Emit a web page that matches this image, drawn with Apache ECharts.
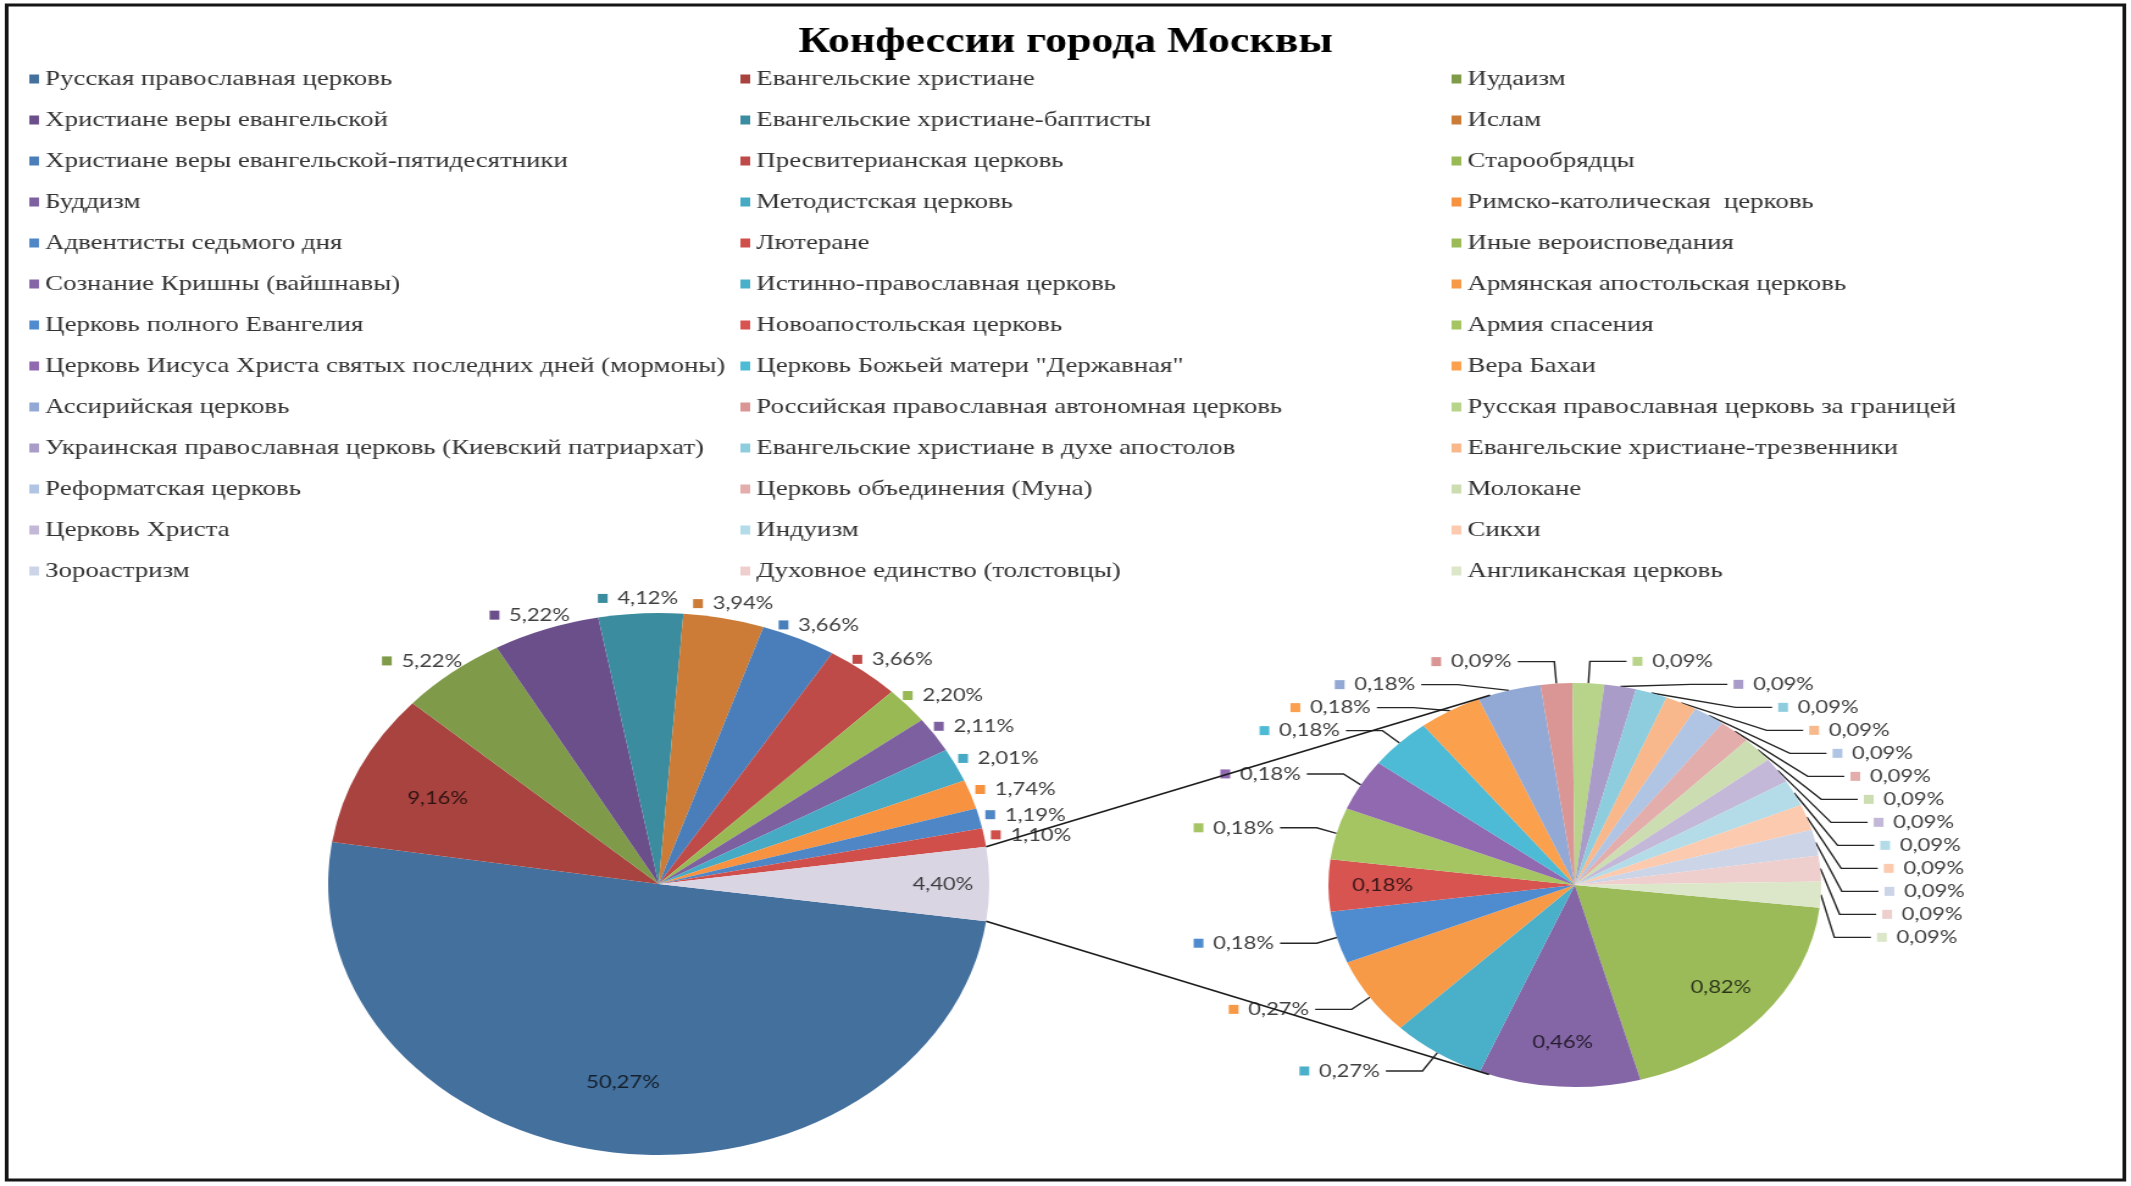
<!DOCTYPE html>
<html>
<head>
<meta charset="utf-8">
<title>Конфессии города Москвы</title>
<script src="https://cdn.jsdelivr.net/npm/echarts@6/dist/echarts.min.js"></script>
<style>
  html, body { margin: 0; padding: 0; background: #fff; overflow: hidden; }
  /* the source picture is stretched sideways, so draw narrow and scale the whole chart */
  #chart { width: 1747px; height: 1186px; transform: scaleX(1.2198); transform-origin: 0 0; }
</style>
</head>
<body>
<div id="chart"></div>
<script>
// first pie: the big confessions, in percent
const mainNames = [
  'Русская православная церковь',
  'Евангельские христиане',
  'Иудаизм',
  'Христиане веры евангельской',
  'Евангельские христиане-баптисты',
  'Ислам',
  'Христиане веры евангельской-пятидесятники',
  'Пресвитерианская церковь',
  'Старообрядцы',
  'Буддизм',
  'Методистская церковь',
  'Римско-католическая  церковь',
  'Адвентисты седьмого дня',
  'Лютеране'
];
const mainValues = [50.27, 9.16, 5.22, 5.22, 4.12, 3.94, 3.66, 3.66, 2.20, 2.11, 2.01, 1.74, 1.19, 1.10];
const mainColors = ['#44709D', '#A8433F', '#7F9B49', '#6A4F8B', '#3C8C9F', '#CC7C36',
  '#4A7EBB', '#BE4B48', '#98B954', '#7D60A0', '#46AAC5', '#F69240', '#4F86C6', '#D04F4B'];

// the slice that is opened up in the second pie
const otherName = 'Прочие';
const otherValue = 4.40;
const otherColor = '#DAD5E2';

// second pie: the small confessions
const smallNames = [
  'Иные вероисповедания',
  'Сознание Кришны (вайшнавы)',
  'Истинно-православная церковь',
  'Армянская апостольская церковь',
  'Церковь полного Евангелия',
  'Новоапостольская церковь',
  'Армия спасения',
  'Церковь Иисуса Христа святых последних дней (мормоны)',
  'Церковь Божьей матери "Державная"',
  'Вера Бахаи',
  'Ассирийская церковь',
  'Российская православная автономная церковь',
  'Русская православная церковь за границей',
  'Украинская православная церковь (Киевский патриархат)',
  'Евангельские христиане в духе апостолов',
  'Евангельские христиане-трезвенники',
  'Реформатская церковь',
  'Церковь объединения (Муна)',
  'Молокане',
  'Церковь Христа',
  'Индуизм',
  'Сикхи',
  'Зороастризм',
  'Духовное единство (толстовцы)',
  'Англиканская церковь'
];
const smallValues = [0.82, 0.46, 0.27, 0.27, 0.18, 0.18, 0.18, 0.18, 0.18, 0.18, 0.18,
  0.09, 0.09, 0.09, 0.09, 0.09, 0.09, 0.09, 0.09, 0.09, 0.09, 0.09, 0.09, 0.09, 0.09];
const smallColors = ['#9BBB59', '#8466A6', '#4AAFC8', '#F79A48', '#4F8BCF', '#D75451',
  '#A5C563', '#9069B0', '#4EBBD6', '#FBA04D', '#93A9D5', '#DA9694', '#B8D38A', '#AA9CC8',
  '#8ECDDE', '#F8B88B', '#B0C4E4', '#E3ADAB', '#CDDDB2', '#C4B8D8', '#B3DCE8', '#FCCAAE',
  '#CCD4E8', '#EECFCD', '#DCE6C9'];

// labels that sit inside their slice
const insideMain = ['Русская православная церковь', 'Евангельские христиане', otherName];
const insideSmall = ['Иные вероисповедания', 'Сознание Кришны (вайшнавы)', 'Новоапостольская церковь'];

const C1 = [540, 884], R1 = 271;
const C2 = [1291, 885], R2 = 202;

const pct = v => v.toFixed(2).replace('.', ',') + '%';
const sum = arr => arr.reduce((s, v) => s + v, 0);

const values1 = mainValues.concat([otherValue]);
const names1 = mainNames.concat([otherName]);
const colors1 = mainColors.concat([otherColor]);
// the opened slice is centred on the right side
const start1 = -otherValue / sum(values1) * 180;
const start2 = -6.5;

function midAngles(values, startAngle) {
  const total = sum(values);
  let cum = 0;
  return values.map(v => {
    const m = -startAngle + 360 * (cum + v / 2) / total;
    cum += v;
    return m;
  });
}
const mid1 = midAngles(values1, start1);
const mid2 = midAngles(smallValues, start2);

function richFor(colors) {
  const rich = {
    v: { fontFamily: 'Lato', fontSize: 18, color: '#404040', padding: [0, 0, 0, 8] },
    vi: { fontFamily: 'Lato', fontSize: 18, color: 'rgba(0,0,0,0.72)' }
  };
  colors.forEach((c, i) => { rich['s' + i] = { width: 8, height: 9, backgroundColor: c }; });
  return rich;
}

function makeData(names, values, colors, inside) {
  return names.map((n, i) => {
    const item = { name: n, value: values[i], itemStyle: { color: colors[i] } };
    if (inside.includes(n)) {
      item.label = { position: 'inside' };
      item.labelLine = { show: false };
    }
    return item;
  });
}

function labelText(inside) {
  return p => inside.includes(p.name)
    ? '{vi|' + pct(p.value) + '}'
    : '{s' + p.dataIndex + '|}{v|' + pct(p.value) + '}';
}

function insidePos(center, r, angle, k) {
  const a = angle * Math.PI / 180;
  return { x: center[0] + Math.cos(a) * r * k, y: center[1] + Math.sin(a) * r * k,
    align: 'center', verticalAlign: 'middle' };
}

// connector lines: from the edges of the opened slice to the tangents of the second pie
const half = -start1 * Math.PI / 180;
const pTop = [C1[0] + R1 * Math.cos(half), C1[1] - R1 * Math.sin(half)];
const pBot = [C1[0] + R1 * Math.cos(half), C1[1] + R1 * Math.sin(half)];
function tangent(p, up) {
  const vx = p[0] - C2[0], vy = p[1] - C2[1];
  const d = Math.hypot(vx, vy);
  const phi = Math.atan2(vy, vx);
  const t = Math.acos(R2 / d);
  const a = up ? phi + t : phi - t;
  return [C2[0] + R2 * Math.cos(a), C2[1] + R2 * Math.sin(a)];
}
const tTop = tangent(pTop, true), tBot = tangent(pBot, false);

const allNames = mainNames.concat(smallNames);
const legendLeft = [24, 607, 1190];

const chart = echarts.init(document.getElementById('chart'));
chart.setOption({
  animation: false,
  backgroundColor: '#fff',
  title: {
    text: 'Конфессии города Москвы',
    left: 'center',
    top: 20,
    textStyle: { fontFamily: 'Liberation Serif', fontSize: 36, fontWeight: 'bold', color: '#000' }
  },
  legend: [0, 1, 2].map(k => ({
    data: allNames.filter((_, i) => i % 3 === k),
    orient: 'vertical',
    left: legendLeft[k],
    top: 67,
    padding: 0,
    itemWidth: 8,
    itemHeight: 9,
    itemGap: 17,
    icon: 'rect',
    selectedMode: false,
    textStyle: { fontFamily: 'Liberation Serif', fontSize: 22, lineHeight: 24, color: '#333' }
  })),
  graphic: [
    { type: 'rect', shape: { x: 5.5, y: 5, width: 1736, height: 1175 },
      style: { fill: 'none', stroke: '#151515', lineWidth: 3 }, z: 1 },
    { type: 'line', shape: { x1: pTop[0], y1: pTop[1], x2: tTop[0], y2: tTop[1] },
      style: { stroke: '#1c1c1c', lineWidth: 1.6 }, z: 100 },
    { type: 'line', shape: { x1: pBot[0], y1: pBot[1], x2: tBot[0], y2: tBot[1] },
      style: { stroke: '#1c1c1c', lineWidth: 1.6 }, z: 100 }
  ],
  series: [
    {
      type: 'pie',
      center: C1,
      radius: R1,
      startAngle: start1,
      clockwise: true,
      itemStyle: { borderWidth: 0 },
      emphasis: { disabled: true },
      data: makeData(names1, values1, colors1, insideMain),
      label: {
        position: 'outside',
        formatter: labelText(insideMain),
        rich: richFor(colors1)
      },
      labelLine: { show: false },
      labelLayout: p => {
        const a = mid1[p.dataIndex];
        if (insideMain.includes(names1[p.dataIndex])) {
          // the narrow opened slice keeps its label near the rim
          return insidePos(C1, R1, a, values1[p.dataIndex] < 6 ? 0.86 : 0.74);
        }
        const r = a * Math.PI / 180, ux = Math.cos(r), uy = Math.sin(r);
        const w = p.labelRect.width, h = p.labelRect.height;
        return {
          x: C1[0] + ux * (R1 + 6) + ux * w / 2,
          y: C1[1] + uy * (R1 + 6) + uy * h / 2,
          align: 'center', verticalAlign: 'middle'
        };
      }
    },
    {
      type: 'pie',
      center: C2,
      radius: R2,
      startAngle: start2,
      clockwise: true,
      itemStyle: { borderWidth: 0 },
      emphasis: { disabled: true },
      data: makeData(smallNames, smallValues, smallColors, insideSmall),
      label: {
        position: 'outside',
        alignTo: 'none',
        minMargin: 5,
        formatter: labelText(insideSmall),
        rich: richFor(smallColors)
      },
      labelLine: { show: true, length: 22, length2: 30, lineStyle: { color: '#262626', width: 1.4 } },
      labelLayout: p => insideSmall.includes(smallNames[p.dataIndex])
        ? insidePos(C2, R2, mid2[p.dataIndex], 0.78) : {}
    }
  ]
});
</script>
</body>
</html>
